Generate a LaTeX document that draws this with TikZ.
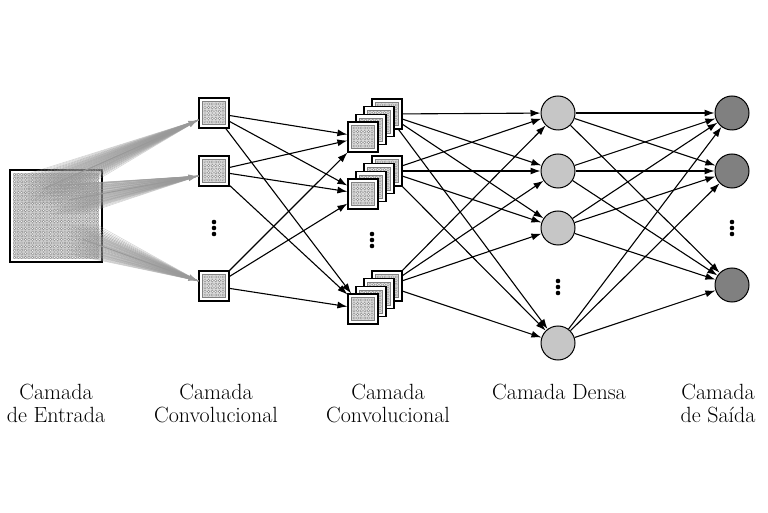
\documentclass[tikz,border=0pt]{standalone}
\usetikzlibrary{arrows.meta}
\tikzset{
	conv/.style={draw, line width=1.2pt, fill=white, minimum size=30pt, inner sep=0pt,
		path picture={
			\draw[gray, line width=0.4pt, fill=gray!30] ([shift={(3.5pt,3.5pt)}]path picture bounding box.south west) rectangle ([shift={(-3.5pt,-3.5pt)}]path picture bounding box.north east);
			\foreach \gi in {0,...,5}{\foreach \gj in {0,...,5}{
				\draw[gray, line width=0.35pt, fill=white] ([shift={(6pt+\gi*3.6pt,6pt+\gj*3.6pt)}]path picture bounding box.south west) circle (1.25pt);}}
		}},
	inbox/.style={draw, line width=1.3pt, fill=white, minimum size=92pt, inner sep=0pt},
	dense/.style={circle, draw, line width=1pt, fill=gray!45, minimum size=34pt, inner sep=0pt},
	outn/.style={dense, fill=gray},
	vdot/.style={inner sep=0pt, minimum width=6pt, minimum height=18pt,
		path picture={
			\fill (path picture bounding box.center) circle (2.3pt);
			\fill ([yshift=6pt]path picture bounding box.center) circle (2.3pt);
			\fill ([yshift=-6pt]path picture bounding box.center) circle (2.3pt);
		}},
	conn/.style={line width=1.1pt, -{Latex[length=10pt,width=7pt]}},
	fan/.style={gray!80, line width=0.5pt, opacity=0.45},
	fanhead/.style={gray!80, line width=1pt, -{Latex[length=10pt,width=7pt]}},
	lbl/.style={anchor=north, align=center, inner sep=0pt, font=\fontsize{22}{23}\selectfont}
}
\begin{document}
\begin{tikzpicture}[x=1pt, y=1pt]
	\useasboundingbox (0,0) rectangle (768,512);

	\node[inbox](in_sq) at (56,296) {};
	\fill[gray!40] (13,253) rectangle (99,339);
	\foreach \i in {0,...,23}{\foreach \j in {0,...,23}{
		\coordinate (g-\i-\j) at (14.6+3.6*\i, 337.4-3.6*\j);
		\draw[gray, line width=0.3pt, fill=white] (g-\i-\j) circle (1.2);
	}}

	\node[conv](c1_a) at (214,399) {};
	\node[conv](c1_b) at (214,341) {};
	\node[conv](c1_c) at (214,226) {};
	\node[vdot](c1_dots) at (214,284) {};

	\node[conv](c2_a0) at (387,398) {};
	\node[conv](c2_a1) at (379,390.33) {};
	\node[conv](c2_a2) at (371,382.67) {};
	\node[conv](c2_a3) at (363,375) {};

	\node[conv](c2_b0) at (387,341) {};
	\node[conv](c2_b1) at (379,333.33) {};
	\node[conv](c2_b2) at (371,325.67) {};
	\node[conv](c2_b3) at (363,318) {};

	\node[conv](c2_c0) at (387,226) {};
	\node[conv](c2_c1) at (379,218.33) {};
	\node[conv](c2_c2) at (371,210.67) {};
	\node[conv](c2_c3) at (363,203) {};
	\node[vdot](c2_dots) at (372,272) {};

	\node[dense](d_a) at (558,399) {};
	\node[dense](d_b) at (558,341) {};
	\node[dense](d_c) at (558,284) {};
	\node[dense](d_d) at (558,169) {};
	\node[vdot](d_dots) at (558,225) {};

	\node[outn](o_a) at (732,399) {};
	\node[outn](o_b) at (732,341) {};
	\node[outn](o_c) at (732,227) {};
	\node[vdot](o_dots) at (732,284) {};

	\foreach \i in {3,...,12}{\foreach \j in {0,...,8}{
		\draw[fan] (g-\i-\j) -- ([yshift=-7pt]c1_a.west);
	}}
	\draw[fanhead] (g-8-4) -- ([yshift=-7pt]c1_a.west);
	\foreach \i in {10,...,19}{\foreach \j in {3,...,11}{
		\draw[fan] (g-\i-\j) -- ([yshift=-5pt]c1_b.west);
	}}
	\draw[fanhead] (g-15-7) -- ([yshift=-5pt]c1_b.west);
	\foreach \i in {15,...,23}{\foreach \j in {14,...,22}{
		\draw[fan] (g-\i-\j) -- ([yshift=5pt]c1_c.west);
	}}
	\draw[fanhead] (g-19-18) -- ([yshift=5pt]c1_c.west);

	\draw[conn] (c1_a) -- (c2_a3);
	\draw[conn] (c1_a) -- (c2_b3);
	\draw[conn] (c1_a) -- (c2_c3);
	\draw[conn] (c1_b) -- (c2_a3);
	\draw[conn] (c1_b) -- (c2_b3);
	\draw[conn] (c1_b) -- (c2_c3);
	\draw[conn] (c1_c) -- (c2_a3);
	\draw[conn] (c1_c) -- (c2_b3);
	\draw[conn] (c1_c) -- (c2_c3);

	\draw[conn] (c2_a0) -- (d_a);
	\draw[conn] (c2_a0) -- (d_b);
	\draw[conn] (c2_a0) -- (d_c);
	\draw[conn] (c2_a0) -- (d_d);
	\draw[conn] (c2_b0) -- (d_a);
	\draw[conn] (c2_b0) -- (d_b);
	\draw[conn] (c2_b0) -- (d_c);
	\draw[conn] (c2_b0) -- (d_d);
	\draw[conn] (c2_c0) -- (d_a);
	\draw[conn] (c2_c0) -- (d_b);
	\draw[conn] (c2_c0) -- (d_c);
	\draw[conn] (c2_c0) -- (d_d);

	\draw[conn] (d_a) -- (o_a);
	\draw[conn] (d_a) -- (o_b);
	\draw[conn] (d_a) -- (o_c);
	\draw[conn] (d_b) -- (o_a);
	\draw[conn] (d_b) -- (o_b);
	\draw[conn] (d_b) -- (o_c);
	\draw[conn] (d_c) -- (o_a);
	\draw[conn] (d_c) -- (o_b);
	\draw[conn] (d_c) -- (o_c);
	\draw[conn] (d_d) -- (o_a);
	\draw[conn] (d_d) -- (o_b);
	\draw[conn] (d_d) -- (o_c);

	\node[lbl](l_in) at (56,128) {Camada\\de Entrada};
	\node[lbl](l_c1) at (216,128) {Camada\\Convolucional};
	\node[lbl](l_c2) at (388,128) {Camada\\Convolucional};
	\node[lbl](l_d) at (559,128) {Camada Densa};
	\node[lbl](l_o) at (718,128) {Camada\\de Saída};
\end{tikzpicture}
\end{document}
